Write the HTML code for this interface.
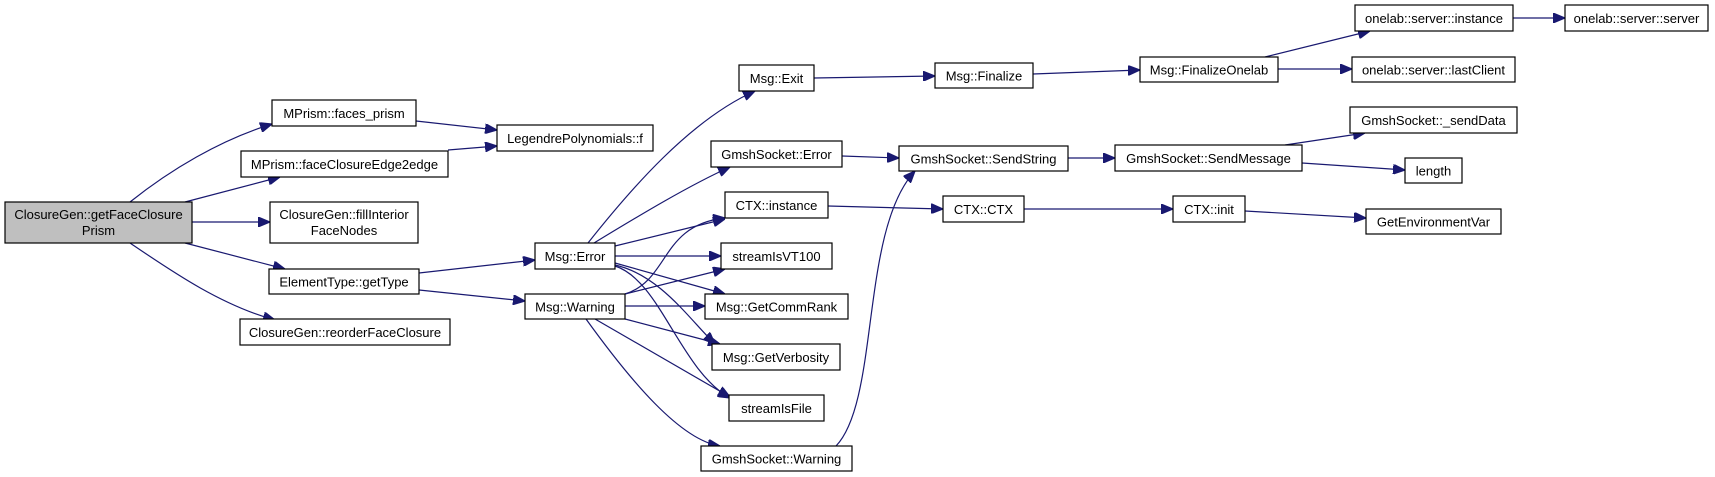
<!DOCTYPE html>
<html><head><meta charset="utf-8"><style>
html,body{margin:0;padding:0;background:#fff;}
svg{display:block;}
text{font-family:"Liberation Sans",Arial,sans-serif;font-size:13px;fill:#000;}
rect{fill:#fff;stroke:#000;stroke-width:1.2;}
path{fill:none;stroke:#191970;stroke-width:1.2;}
</style></head><body>
<svg width="1715" height="477" viewBox="0 0 1715 477" xmlns="http://www.w3.org/2000/svg">
<defs><marker id="a" markerUnits="userSpaceOnUse" markerWidth="12" markerHeight="10" refX="12" refY="5" orient="auto"><path d="M0,0 L12,5 L0,10 Z" style="fill:#191970;stroke:#191970"/></marker></defs>
<g marker-end="url(#a)">
<path d="M130,202 C170,170 220,140 272,124"/>
<path d="M185,202 L280,177"/>
<path d="M192,222 L270,222"/>
<path d="M185,243 L285,269"/>
<path d="M130,243 C170,270 220,305 275,320"/>
<path d="M416,121 L497,130"/>
<path d="M448,150 L497,146"/>
<path d="M419,273 L535,260"/>
<path d="M419,290 L525,301"/>
<path d="M588,243 C630,190 690,120 755,91"/>
<path d="M594,243 C640,215 690,185 730,167"/>
<path d="M615,246 L725,219"/>
<path d="M615,256 L721,256"/>
<path d="M615,263 L725,294"/>
<path d="M615,265 C660,275 690,320 715,344"/>
<path d="M615,266 C660,280 680,370 730,398"/>
<path d="M625,294 C670,280 660,225 725,218"/>
<path d="M625,294 L725,269"/>
<path d="M625,306 L705,306"/>
<path d="M625,319 L720,344"/>
<path d="M595,319 L730,397"/>
<path d="M586,319 C630,380 680,440 720,446"/>
<path d="M836,446 C880,400 860,230 915,171"/>
<path d="M814,78 L935,76"/>
<path d="M842,156 L899,158"/>
<path d="M828,206 L943,209"/>
<path d="M1033,74 L1140,70"/>
<path d="M1068,158 L1115,158"/>
<path d="M1024,209 L1173,209"/>
<path d="M1265,57 L1370,31"/>
<path d="M1278,69 L1352,69"/>
<path d="M1285,145 L1365,133"/>
<path d="M1302,163 L1405,170"/>
<path d="M1513,18 L1565,18"/>
<path d="M1245,211 L1366,218"/>
</g>
<g>
<rect x="5" y="202" width="187" height="41" style="fill:#bfbfbf"/>
<text x="98.5" y="219" text-anchor="middle">ClosureGen::getFaceClosure</text>
<text x="98.5" y="235" text-anchor="middle">Prism</text>
<rect x="272" y="100" width="144" height="26"/><text x="344" y="118" text-anchor="middle">MPrism::faces_prism</text>
<rect x="241" y="151" width="207" height="26"/><text x="344.5" y="169" text-anchor="middle">MPrism::faceClosureEdge2edge</text>
<rect x="270" y="202" width="148" height="41"/>
<text x="344" y="219" text-anchor="middle">ClosureGen::fillInterior</text>
<text x="344" y="235" text-anchor="middle">FaceNodes</text>
<rect x="269" y="269" width="150" height="25"/><text x="344" y="286.5" text-anchor="middle">ElementType::getType</text>
<rect x="240" y="319" width="210" height="26"/><text x="345" y="337" text-anchor="middle">ClosureGen::reorderFaceClosure</text>
<rect x="497" y="125" width="156" height="26"/><text x="575" y="143" text-anchor="middle">LegendrePolynomials::f</text>
<rect x="535" y="243" width="80" height="26"/><text x="575" y="261" text-anchor="middle">Msg::Error</text>
<rect x="525" y="294" width="100" height="25"/><text x="575" y="311.5" text-anchor="middle">Msg::Warning</text>
<rect x="739" y="65" width="75" height="26"/><text x="776.5" y="83" text-anchor="middle">Msg::Exit</text>
<rect x="711" y="141" width="131" height="26"/><text x="776.5" y="159" text-anchor="middle">GmshSocket::Error</text>
<rect x="725" y="192" width="103" height="26"/><text x="776.5" y="210" text-anchor="middle">CTX::instance</text>
<rect x="721" y="243" width="111" height="26"/><text x="776.5" y="261" text-anchor="middle">streamIsVT100</text>
<rect x="705" y="294" width="143" height="25"/><text x="776.5" y="311.5" text-anchor="middle">Msg::GetCommRank</text>
<rect x="712" y="344" width="128" height="26"/><text x="776" y="362" text-anchor="middle">Msg::GetVerbosity</text>
<rect x="729" y="395" width="95" height="26"/><text x="776.5" y="413" text-anchor="middle">streamIsFile</text>
<rect x="701" y="446" width="151" height="25"/><text x="776.5" y="463.5" text-anchor="middle">GmshSocket::Warning</text>
<rect x="935" y="63" width="98" height="25"/><text x="984" y="80.5" text-anchor="middle">Msg::Finalize</text>
<rect x="899" y="146" width="169" height="25"/><text x="983.5" y="163.5" text-anchor="middle">GmshSocket::SendString</text>
<rect x="943" y="196" width="81" height="26"/><text x="983.5" y="214" text-anchor="middle">CTX::CTX</text>
<rect x="1140" y="57" width="138" height="25"/><text x="1209" y="74.5" text-anchor="middle">Msg::FinalizeOnelab</text>
<rect x="1115" y="145" width="187" height="26"/><text x="1208.5" y="163" text-anchor="middle">GmshSocket::SendMessage</text>
<rect x="1173" y="196" width="72" height="26"/><text x="1209" y="214" text-anchor="middle">CTX::init</text>
<rect x="1355" y="5" width="158" height="26"/><text x="1434" y="23" text-anchor="middle">onelab::server::instance</text>
<rect x="1352" y="57" width="163" height="25"/><text x="1433.5" y="74.5" text-anchor="middle">onelab::server::lastClient</text>
<rect x="1350" y="107" width="167" height="26"/><text x="1433.5" y="125" text-anchor="middle">GmshSocket::_sendData</text>
<rect x="1405" y="158" width="57" height="25"/><text x="1433.5" y="175.5" text-anchor="middle">length</text>
<rect x="1366" y="209" width="135" height="25"/><text x="1433.5" y="226.5" text-anchor="middle">GetEnvironmentVar</text>
<rect x="1565" y="5" width="143" height="26"/><text x="1636.5" y="23" text-anchor="middle">onelab::server::server</text>
</g>
</svg>
</body></html>
